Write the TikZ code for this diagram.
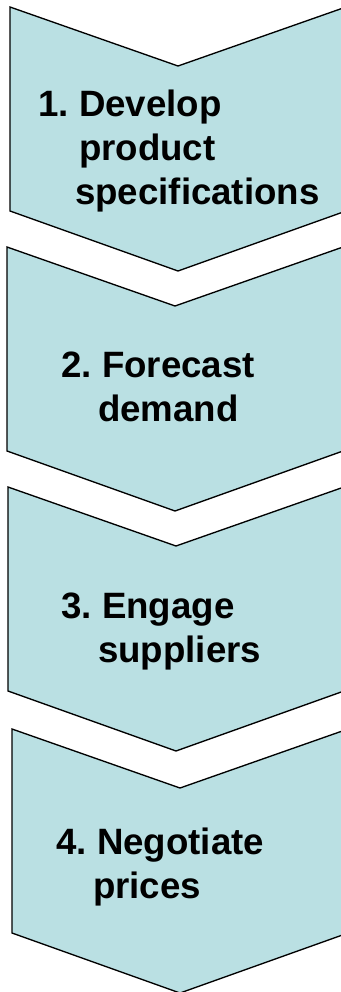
\documentclass[tikz,border=0pt]{standalone}
\usepackage{fontspec}
\setmainfont{Liberation Sans}
\usepackage{xcolor}
\usepackage{tikz}
\definecolor{chevfill}{RGB}{186,224,227}

\begin{document}
\begin{tikzpicture}[x=0.75pt,y=-0.75pt,
  chevron/.style={fill=chevfill,draw=black,line width=1pt,line join=miter},
  steptext/.style={anchor=base west,inner sep=0pt,font=\fontsize{27.5}{33}\selectfont\bfseries}]

\useasboundingbox (0,0) rectangle (341,992);
\clip (0,0) rectangle (341,992);

\foreach \t/\l in {7/10,247/7,487/8,729/12}
  \draw[chevron] (\l,\t) -- (\l+168,\t+59) -- (\l+336,\t) -- (\l+336,\t+204)
    -- (\l+168,\t+264) -- (\l,\t+204) -- cycle;

\node (S1) [steptext] at (38,116) {\begin{tabular}[t]{@{}l@{\ }l@{}}1. & Develop\\ & product\\ & \hspace{-3pt}specifications\end{tabular}};
\node (S2) [steptext] at (61,377) {\begin{tabular}[t]{@{}l@{\ }l@{}}2. & Forecast\\ & \hspace{-3pt}demand\end{tabular}};
\node (S3) [steptext] at (61,618) {\begin{tabular}[t]{@{}l@{\ }l@{}}3. & Engage\\ & \hspace{-3pt}suppliers\end{tabular}};
\node (S4) [steptext] at (56,854) {\begin{tabular}[t]{@{}l@{\ }l@{}}4. & Negotiate\\ & \hspace{-3pt}prices\end{tabular}};

\end{tikzpicture}
\end{document}
